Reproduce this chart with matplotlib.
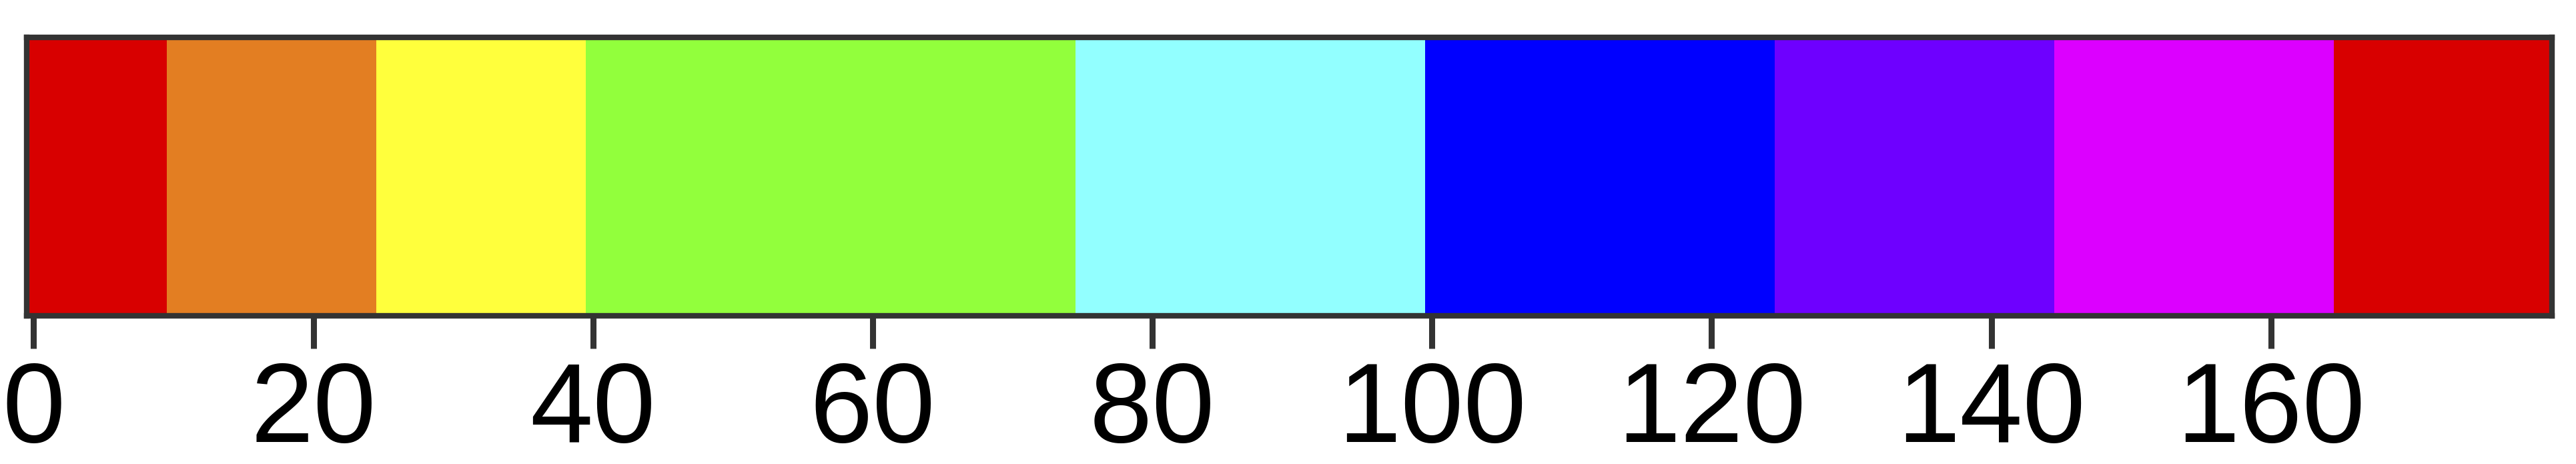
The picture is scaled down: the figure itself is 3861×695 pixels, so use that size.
import numpy as np
import matplotlib
matplotlib.use("Agg")
import matplotlib.pyplot as plt
from matplotlib.colors import ListedColormap

# Hue bands (OpenCV-style hue, 0-180)
band_start = [0, 10, 25, 40, 75, 100, 125, 145, 165]
band_end = [9, 24, 39, 74, 99, 124, 144, 164, 180]
band_colors = ["#D80000", "#E37E22", "#FFFF3C", "#92FF3C", "#92FFFF",
               "#0000FF", "#6E00FF", "#DC00FF", "#D80000"]
xticks = [0, 20, 40, 60, 80, 100, 120, 140, 160]

# one row image: each hue value gets the index of its band
hue = np.arange(0, 181)
row = np.zeros(len(hue), dtype=int)
for i, (s, e) in enumerate(zip(band_start, band_end)):
    row[(hue >= s) & (hue <= e)] = i

plt.rcParams["font.family"] = ["Liberation Sans", "DejaVu Sans"]

fig = plt.figure(figsize=(38.62, 6.95), dpi=100)
ax = fig.add_axes([0.01036, 0.3194, 0.98004, 0.600])
ax.imshow(row[None, :], cmap=ListedColormap(band_colors), aspect="auto",
          interpolation="nearest", vmin=-0.5, vmax=len(band_colors) - 0.5,
          extent=(-0.5, 180.5, 0.5, -0.5))
ax.set_xlim(-0.5, 180.1)
ax.set_ylim(0.5, -0.5)

ax.set_xticks(xticks)
ax.set_xticklabels([str(t) for t in xticks])
ax.set_yticks([0])
ax.set_yticklabels([])
ax.tick_params(axis="x", length=35, width=6.5, color="#333333",
               labelsize=122, pad=13)
ax.tick_params(axis="y", length=3, width=6, color="#333333")
for sp in ax.spines.values():
    sp.set_linewidth(6)
    sp.set_color("#333333")

fig.savefig("out.png", dpi=100)
